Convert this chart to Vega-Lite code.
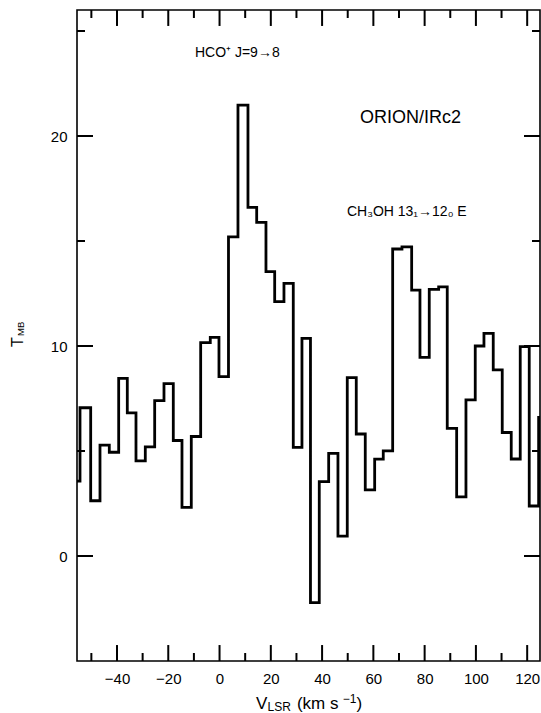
{
  "$schema": "https://vega.github.io/schema/vega-lite/v6.json",
  "width": 463,
  "height": 651,
  "autosize": {"type": "none"},
  "padding": {"left": 77, "top": 10, "right": 1, "bottom": 52},
  "background": "white",
  "config": {
    "view": {"stroke": "black", "strokeWidth": 1.6},
    "font": "Liberation Sans",
    "axis": {"domain": false, "grid": false, "title": null, "labelFont": "Liberation Sans", "labelFontSize": 15, "labelColor": "black", "labelFlush": false}
  },
  "datasets": {
    "spec": [
      {"v": -57.8, "t": 3.57}, {"v": -54.43, "t": 7.06}, {"v": -50.26, "t": 2.63}, {"v": -46.63, "t": 5.28},
      {"v": -43.0, "t": 4.94}, {"v": -39.34, "t": 8.46}, {"v": -35.98, "t": 6.82}, {"v": -32.59, "t": 4.53},
      {"v": -28.96, "t": 5.2}, {"v": -25.3, "t": 7.4}, {"v": -21.67, "t": 8.21}, {"v": -18.04, "t": 5.5},
      {"v": -14.65, "t": 2.32}, {"v": -11.02, "t": 5.69}, {"v": -7.36, "t": 10.16}, {"v": -3.61, "t": 10.41},
      {"v": -0.22, "t": 8.54}, {"v": 3.49, "t": 15.2}, {"v": 7.19, "t": 21.47}, {"v": 11.09, "t": 16.6},
      {"v": 14.49, "t": 15.89}, {"v": 18.11, "t": 13.54}, {"v": 21.51, "t": 12.11}, {"v": 25.13, "t": 12.98},
      {"v": 28.76, "t": 5.17}, {"v": 32.15, "t": 10.36}, {"v": 35.47, "t": -2.22}, {"v": 38.9, "t": 3.54},
      {"v": 42.57, "t": 4.89}, {"v": 46.19, "t": 0.95}, {"v": 49.82, "t": 8.49}, {"v": 53.33, "t": 5.81},
      {"v": 56.84, "t": 3.15}, {"v": 60.51, "t": 4.61}, {"v": 63.86, "t": 5.01}, {"v": 67.53, "t": 14.62},
      {"v": 71.16, "t": 14.72}, {"v": 74.94, "t": 12.66}, {"v": 78.18, "t": 9.46}, {"v": 81.8, "t": 12.7},
      {"v": 85.47, "t": 12.82}, {"v": 88.82, "t": 6.08}, {"v": 92.49, "t": 2.82}, {"v": 96.12, "t": 7.43},
      {"v": 99.74, "t": 10.0}, {"v": 103.14, "t": 10.6}, {"v": 106.76, "t": 8.86}, {"v": 110.27, "t": 5.88},
      {"v": 113.78, "t": 4.62}, {"v": 117.29, "t": 9.97}, {"v": 120.8, "t": 2.38}, {"v": 124.47, "t": 6.6},
      {"v": 127.0, "t": 6.6}
    ],
    "ticks": [
      {"g": "b-40", "v": -40, "t": -5}, {"g": "b-40", "v": -40, "t": -4.24},
      {"g": "b-20", "v": -20, "t": -5}, {"g": "b-20", "v": -20, "t": -4.24},
      {"g": "b0", "v": 0, "t": -5}, {"g": "b0", "v": 0, "t": -4.24},
      {"g": "b20", "v": 20, "t": -5}, {"g": "b20", "v": 20, "t": -4.24},
      {"g": "b40", "v": 40, "t": -5}, {"g": "b40", "v": 40, "t": -4.24},
      {"g": "b60", "v": 60, "t": -5}, {"g": "b60", "v": 60, "t": -4.24},
      {"g": "b80", "v": 80, "t": -5}, {"g": "b80", "v": 80, "t": -4.24},
      {"g": "b100", "v": 100, "t": -5}, {"g": "b100", "v": 100, "t": -4.24},
      {"g": "b120", "v": 120, "t": -5}, {"g": "b120", "v": 120, "t": -4.24},
      {"g": "b-50", "v": -50, "t": -5}, {"g": "b-50", "v": -50, "t": -4.62},
      {"g": "b-30", "v": -30, "t": -5}, {"g": "b-30", "v": -30, "t": -4.62},
      {"g": "b-10", "v": -10, "t": -5}, {"g": "b-10", "v": -10, "t": -4.62},
      {"g": "b10", "v": 10, "t": -5}, {"g": "b10", "v": 10, "t": -4.62},
      {"g": "b30", "v": 30, "t": -5}, {"g": "b30", "v": 30, "t": -4.62},
      {"g": "b50", "v": 50, "t": -5}, {"g": "b50", "v": 50, "t": -4.62},
      {"g": "b70", "v": 70, "t": -5}, {"g": "b70", "v": 70, "t": -4.62},
      {"g": "b90", "v": 90, "t": -5}, {"g": "b90", "v": 90, "t": -4.62},
      {"g": "b110", "v": 110, "t": -5}, {"g": "b110", "v": 110, "t": -4.62},
      {"g": "t-40", "v": -40, "t": 26}, {"g": "t-40", "v": -40, "t": 25.24},
      {"g": "t-20", "v": -20, "t": 26}, {"g": "t-20", "v": -20, "t": 25.24},
      {"g": "t0", "v": 0, "t": 26}, {"g": "t0", "v": 0, "t": 25.24},
      {"g": "t20", "v": 20, "t": 26}, {"g": "t20", "v": 20, "t": 25.24},
      {"g": "t40", "v": 40, "t": 26}, {"g": "t40", "v": 40, "t": 25.24},
      {"g": "t60", "v": 60, "t": 26}, {"g": "t60", "v": 60, "t": 25.24},
      {"g": "t80", "v": 80, "t": 26}, {"g": "t80", "v": 80, "t": 25.24},
      {"g": "t100", "v": 100, "t": 26}, {"g": "t100", "v": 100, "t": 25.24},
      {"g": "t120", "v": 120, "t": 26}, {"g": "t120", "v": 120, "t": 25.24},
      {"g": "t-50", "v": -50, "t": 26}, {"g": "t-50", "v": -50, "t": 25.62},
      {"g": "t-30", "v": -30, "t": 26}, {"g": "t-30", "v": -30, "t": 25.62},
      {"g": "t-10", "v": -10, "t": 26}, {"g": "t-10", "v": -10, "t": 25.62},
      {"g": "t10", "v": 10, "t": 26}, {"g": "t10", "v": 10, "t": 25.62},
      {"g": "t30", "v": 30, "t": 26}, {"g": "t30", "v": 30, "t": 25.62},
      {"g": "t50", "v": 50, "t": 26}, {"g": "t50", "v": 50, "t": 25.62},
      {"g": "t70", "v": 70, "t": 26}, {"g": "t70", "v": 70, "t": 25.62},
      {"g": "t90", "v": 90, "t": 26}, {"g": "t90", "v": 90, "t": 25.62},
      {"g": "t110", "v": 110, "t": 26}, {"g": "t110", "v": 110, "t": 25.62},
      {"g": "l0", "v": -55.6, "t": 0}, {"g": "l0", "v": -49.36, "t": 0},
      {"g": "l10", "v": -55.6, "t": 10}, {"g": "l10", "v": -49.36, "t": 10},
      {"g": "l20", "v": -55.6, "t": 20}, {"g": "l20", "v": -49.36, "t": 20},
      {"g": "l5", "v": -55.6, "t": 5}, {"g": "l5", "v": -52.48, "t": 5},
      {"g": "l15", "v": -55.6, "t": 15}, {"g": "l15", "v": -52.48, "t": 15},
      {"g": "l25", "v": -55.6, "t": 25}, {"g": "l25", "v": -52.48, "t": 25},
      {"g": "r0", "v": 125.0, "t": 0}, {"g": "r0", "v": 118.76, "t": 0},
      {"g": "r10", "v": 125.0, "t": 10}, {"g": "r10", "v": 118.76, "t": 10},
      {"g": "r20", "v": 125.0, "t": 20}, {"g": "r20", "v": 118.76, "t": 20},
      {"g": "r5", "v": 125.0, "t": 5}, {"g": "r5", "v": 121.88, "t": 5},
      {"g": "r15", "v": 125.0, "t": 15}, {"g": "r15", "v": 121.88, "t": 15},
      {"g": "r25", "v": 125.0, "t": 25}, {"g": "r25", "v": 121.88, "t": 25}
    ]
  },
  "layer": [
    {
      "data": {"name": "ticks"},
      "mark": {"type": "line", "color": "black", "strokeWidth": 2, "strokeCap": "butt", "interpolate": "linear"},
      "encoding": {
        "x": {"field": "v", "type": "quantitative", "scale": {"domain": [-55.6, 125.0], "nice": false, "zero": false},
          "axis": {"orient": "bottom", "values": [-40, -20, 0, 20, 40, 60, 80, 100, 120], "ticks": false, "labelPadding": 10}},
        "y": {"field": "t", "type": "quantitative", "scale": {"domain": [-5, 26], "nice": false, "zero": false},
          "axis": {"orient": "left", "values": [0, 10, 20], "ticks": false, "labelPadding": 10}},
        "detail": {"field": "g", "type": "nominal"}
      }
    },
    {
      "data": {"name": "spec"},
      "mark": {"type": "line", "interpolate": "step-after", "color": "black", "strokeWidth": 2.8, "strokeJoin": "miter", "strokeCap": "square", "clip": true},
      "encoding": {
        "x": {"field": "v", "type": "quantitative"},
        "y": {"field": "t", "type": "quantitative"}
      }
    },
    {
      "data": {"values": [{"v": -9.6, "t": 23.76, "txt": "HCO⁺ J=9→8"}]},
      "mark": {"type": "text", "align": "left", "baseline": "alphabetic", "fontSize": 14, "font": "Liberation Sans", "color": "black"},
      "encoding": {"x": {"field": "v", "type": "quantitative"}, "y": {"field": "t", "type": "quantitative"}, "text": {"field": "txt"}}
    },
    {
      "data": {"values": [{"v": 54.8, "t": 20.62, "txt": "ORION/IRc2"}]},
      "mark": {"type": "text", "align": "left", "baseline": "alphabetic", "fontSize": 18, "font": "Liberation Sans", "color": "black"},
      "encoding": {"x": {"field": "v", "type": "quantitative"}, "y": {"field": "t", "type": "quantitative"}, "text": {"field": "txt"}}
    },
    {
      "data": {"values": [{"v": 49.7, "t": 16.19, "txt": "CH₃OH  13₁→12₀  E"}]},
      "mark": {"type": "text", "align": "left", "baseline": "alphabetic", "fontSize": 14, "font": "Liberation Sans", "color": "black"},
      "encoding": {"x": {"field": "v", "type": "quantitative"}, "y": {"field": "t", "type": "quantitative"}, "text": {"field": "txt"}}
    },
    {
      "data": {"values": [{"v": 14.2, "t": -7.28, "txt": "V"}, {"v": 30.2, "t": -7.28, "txt": "(km  s"}, {"v": 53.4, "t": -7.28, "txt": ")"}]},
      "mark": {"type": "text", "align": "left", "baseline": "alphabetic", "fontSize": 17, "font": "Liberation Sans", "color": "black"},
      "encoding": {"x": {"field": "v", "type": "quantitative"}, "y": {"field": "t", "type": "quantitative"}, "text": {"field": "txt"}}
    },
    {
      "data": {"values": [{"v": 18.7, "t": -7.39, "txt": "LSR"}, {"v": 48.1, "t": -6.98, "txt": "−1"}]},
      "mark": {"type": "text", "align": "left", "baseline": "alphabetic", "fontSize": 12, "font": "Liberation Sans", "color": "black"},
      "encoding": {"x": {"field": "v", "type": "quantitative"}, "y": {"field": "t", "type": "quantitative"}, "text": {"field": "txt"}}
    },
    {
      "data": {"values": [{"v": -76.5, "t": 9.95, "txt": "T"}]},
      "mark": {"type": "text", "align": "left", "baseline": "alphabetic", "angle": 270, "fontSize": 16, "font": "Liberation Sans", "color": "black"},
      "encoding": {"x": {"field": "v", "type": "quantitative"}, "y": {"field": "t", "type": "quantitative"}, "text": {"field": "txt"}}
    },
    {
      "data": {"values": [{"v": -76.3, "t": 10.48, "txt": "MB"}]},
      "mark": {"type": "text", "align": "left", "baseline": "alphabetic", "angle": 270, "fontSize": 9.5, "font": "Liberation Sans", "color": "black"},
      "encoding": {"x": {"field": "v", "type": "quantitative"}, "y": {"field": "t", "type": "quantitative"}, "text": {"field": "txt"}}
    }
  ]
}
